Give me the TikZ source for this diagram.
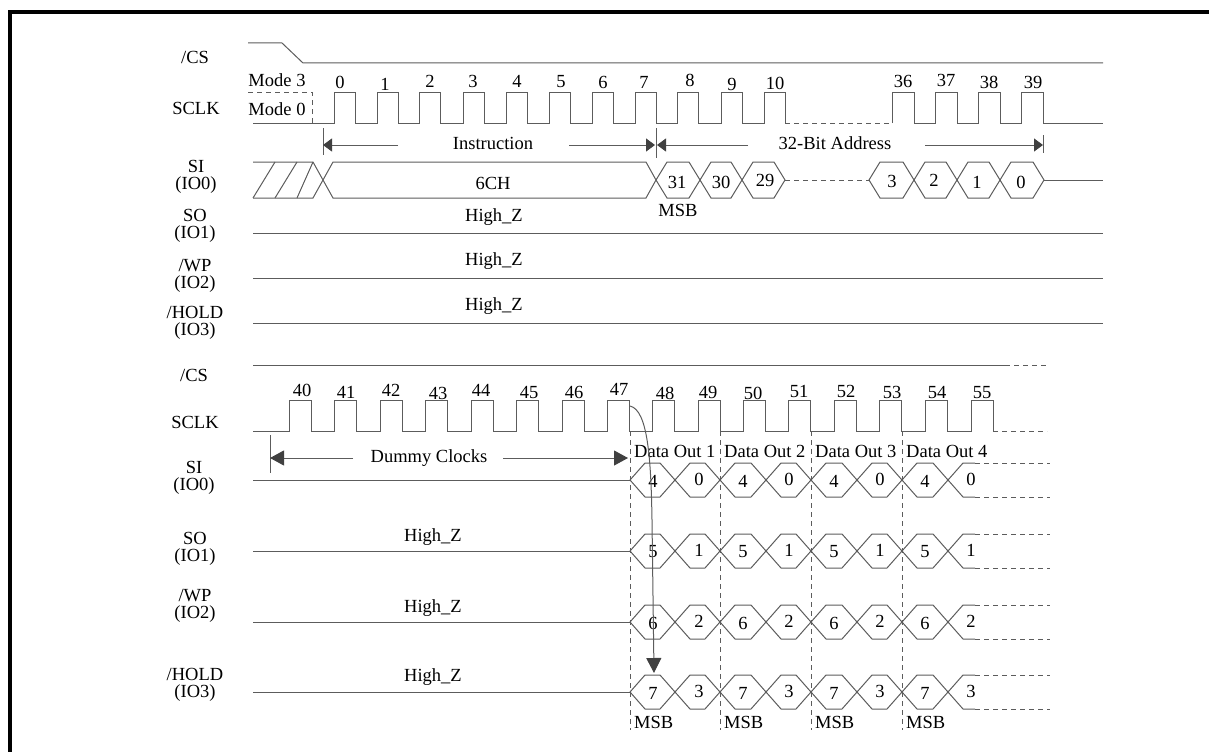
\documentclass[tikz,border=0pt]{standalone}
\usepackage{fontspec}
\setmainfont{Liberation Serif}
\usetikzlibrary{arrows.meta}
\definecolor{ln}{rgb}{0.36,0.36,0.36}
\definecolor{ah}{rgb}{0.25,0.25,0.25}
\newcommand{\hexcell}[5]{%
  \draw[sig] (#1,#3) -- ({#1+#5},{#3-#4}) -- ({#2-#5},{#3-#4}) -- (#2,#3) -- ({#2-#5},{#3+#4}) -- ({#1+#5},{#3+#4}) -- cycle;}
\begin{document}
\begin{tikzpicture}[x=1pt,y=-1pt,
  sig/.style={draw=ln,line width=1pt,line join=miter},
  dsig/.style={sig,dash pattern=on 5pt off 4pt},
  lbl/.style={inner sep=0pt,font=\fontsize{18.5}{18}\selectfont,text=black},
  siglbl/.style={lbl,align=center,font=\fontsize{18.5}{17}\selectfont},
  arrowhd/.style={-{Triangle[length=9pt,width=13pt,color=ah,fill=ah]}},
  bigarrowhd/.style={-{Triangle[length=14pt,width=15pt,color=ah,fill=ah]}}
]
\useasboundingbox (0,0) rectangle (1209,752);
\fill[black] (8,10) rectangle (1209,14);
\fill[black] (8,10) rectangle (12,752);

% ---------------- top section labels
\node[lbl] (cs1) at (195,57) {/CS};
\node[lbl] (sclk1) at (196,108) {SCLK};
\node[siglbl] (si1) at (196,177) {SI\\(IO0)};
\node[siglbl] (so1) at (195,226) {SO\\(IO1)};
\node[siglbl] (wp1) at (195,276) {/WP\\(IO2)};
\node[siglbl] (hold1) at (195,323) {/HOLD\\(IO3)};
\node[lbl] (m3) at (277,80) {Mode 3};
\node[lbl] (m0) at (277,109) {Mode 0};

% /CS
\draw[sig] (248,43) -- (282,43) -- (303,63) -- (1103,63);
% SCLK
\draw[dsig] (248,92) -- (312,92) -- (312,123);
\draw[sig] (253,123) \foreach \r in {334,377,419,463,506,549,592,635,677,721,764}{ -- (\r,123) -- (\r,92) -- (\r+21,92) -- (\r+21,123)};
\draw[dsig] (785,123) -- (892,123);
\draw[sig] (892,123) \foreach \r in {892,935,978,1021}{ -- (\r,123) -- (\r,92) -- (\r+22,92) -- (\r+22,123)} -- (1103,123);
\foreach \n/\x/\y in {0/340/82,1/385/84,2/430/81,3/473/81,4/517/81,5/561/82,6/603/82,7/644/82,8/690/80,9/732/84,10/775/83,36/903/81,37/946/80,38/989/82,39/1033/82}
  \node[lbl] (tn\n) at (\x,\y) {\n};

% Instruction / address arrows
\coordinate (iA) at (323,145);
\coordinate (iB) at (398,145);
\coordinate (iC) at (569,145);
\coordinate (iD) at (655,145);
\coordinate (aA) at (657,145);
\coordinate (aB) at (748,145);
\coordinate (aC) at (925,145);
\coordinate (aD) at (1043,145);
\draw[sig] (323,128) -- (323,155);
\draw[sig] (656,128) -- (656,158);
\draw[sig] (1043,135) -- (1043,153);
\draw[sig,arrowhd] (iB) -- (iA);
\draw[sig,arrowhd] (iC) -- (iD);
\draw[sig,arrowhd] (aB) -- (aA);
\draw[sig,arrowhd] (aC) -- (aD);
\node[lbl] (instr) at (493,143) {Instruction};
\node[lbl] (addr) at (835,143) {32-Bit Address};

% SI bus
\draw[sig] (253,162) -- (313,162) -- (323,180) -- (313,198) -- (253,198);
\draw[sig] (253,198) -- (275,162) (275,198) -- (297,162) (297,198) -- (313,162);
\hexcell{323}{656}{180}{18}{10}
\hexcell{656}{700}{180}{18}{11}
\hexcell{700}{742}{180}{18}{11}
\hexcell{742}{785}{180}{18}{11}
\draw[dsig] (785,180) -- (869,180);
\hexcell{869}{914}{180}{18}{11}
\hexcell{914}{957}{180}{18}{11}
\hexcell{957}{1000}{180}{18}{11}
\hexcell{1000}{1044}{180}{18}{11}
\draw[sig] (1044,180) -- (1103,180);
\node[lbl] (sixch) at (493,183) {6CH};
\foreach \n/\x/\y in {31/677/182,30/721/182,29/765/180,3/892/181,2/934/180,1/977/182,0/1021/182}
  \node[lbl] (ta\n) at (\x,\y) {\n};
\node[lbl] (msbtop) at (678,210) {MSB};

% SO, WP, HOLD (top)
\draw[sig] (253,233) -- (1103,233);
\draw[sig] (253,278) -- (1103,278);
\draw[sig] (253,323) -- (1103,323);
\node[lbl] (hz1) at (494,217) {High\_Z};
\node[lbl] (hz2) at (494,261) {High\_Z};
\node[lbl] (hz3) at (494,306) {High\_Z};

% ---------------- bottom section
\node[lbl] (cs2) at (194,375) {/CS};
\node[lbl] (sclk2) at (195,422) {SCLK};
\node[siglbl] (si2) at (194,478) {SI\\(IO0)};
\node[siglbl] (so2) at (195,549) {SO\\(IO1)};
\node[siglbl] (wp2) at (195,606) {/WP\\(IO2)};
\node[siglbl] (hold2) at (195,685) {/HOLD\\(IO3)};

\draw[sig] (253,365) -- (1005,365);
\draw[dsig] (1005,365) -- (1048,365);

\draw[sig] (253,431) \foreach \r in {289,334,380,425,471,516,562,607,652,698,743,788,834,879,925,971}{ -- (\r,431) -- (\r,400) -- (\r+22,400) -- (\r+22,431)};
\draw[dsig] (993,431) -- (1047,431);
\foreach \n/\x/\y in {40/302/390,41/346/392,42/391/390,43/438/393,44/481/390,45/529/392,46/574/392,47/619/389,48/665/393,49/708/392,50/753/393,51/799/391,52/846/391,53/892/392,54/937/392,55/982/393}
  \node[lbl] (bn\n) at (\x,\y) {\n};

% Dummy clocks
\coordinate (dA) at (270,458);
\coordinate (dB) at (353,458);
\coordinate (dC) at (503,458);
\coordinate (dD) at (628,458);
\draw[sig] (270,435) -- (270,473);
\draw[sig,bigarrowhd] (dB) -- (dA);
\draw[sig,bigarrowhd] (dC) -- (dD);
\node[lbl] (dummy) at (429,458) {Dummy Clocks};

% dashed verticals
\foreach \x in {630,720,811,902}
  \draw[dsig] (\x,431) -- (\x,730);
\foreach \x/\k in {630/1,720/2,811/3,902/4}{
  \node[lbl,anchor=west] (do\k) at (\x+4,451) {Data Out \k};
  \node[lbl,anchor=west] (msb\k) at (\x+4,722) {MSB};
}

% data buses
\foreach \yc/\a/\b [count=\i] in {480/4/0,551/5/1,622/6/2,692/7/3}{
  \draw[sig] (253,\yc) -- (630,\yc);
  \hexcell{630}{675}{\yc}{17}{15}
  \hexcell{675}{720}{\yc}{17}{15}
  \hexcell{720}{766}{\yc}{17}{15}
  \hexcell{766}{811}{\yc}{17}{15}
  \hexcell{811}{857}{\yc}{17}{15}
  \hexcell{857}{902}{\yc}{17}{15}
  \hexcell{902}{948}{\yc}{17}{15}
  \draw[sig] (975,\yc-17) -- (963,\yc-17) -- (948,\yc) -- (963,\yc+17) -- (975,\yc+17);
  \draw[dsig] (975,\yc-17) -- (1050,\yc-17);
  \draw[dsig] (975,\yc+17) -- (1050,\yc+17);
  \foreach \cx [count=\j] in {653,743,834,925}
    \node[lbl] (hx\i a\j) at (\cx,\yc+1) {\a};
  \foreach \cx [count=\j] in {699,789,880,971}
    \node[lbl] (hx\i b\j) at (\cx,\yc-1) {\b};
}
\node[lbl] (hz4) at (433,537) {High\_Z};
\node[lbl] (hz5) at (433,608) {High\_Z};
\node[lbl] (hz6) at (433,677) {High\_Z};

% curved arrow
\coordinate (cvA) at (630,406);
\coordinate (cvB) at (652,520);
\coordinate (cvC) at (654,673);
\draw[sig,-{Triangle[length=15pt,width=15pt,color=ah,fill=ah]}] (cvA) .. controls (648,410) and (651,460) .. (cvB) -- (cvC);
\end{tikzpicture}
\end{document}
